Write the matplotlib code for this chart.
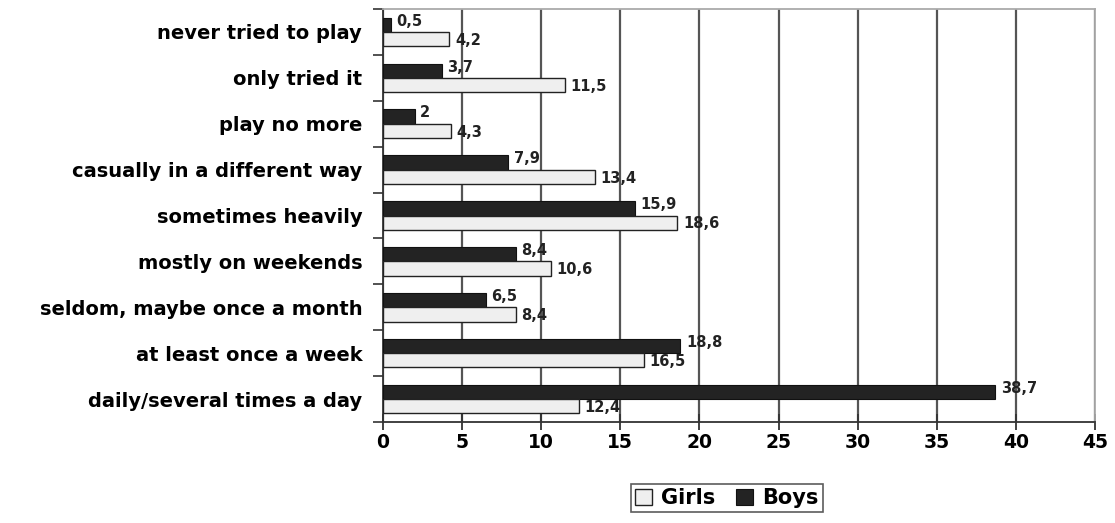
import matplotlib
matplotlib.use("Agg")
import matplotlib.pyplot as plt
import numpy as np

categories = [
    "never tried to play",
    "only tried it",
    "play no more",
    "casually in a different way",
    "sometimes heavily",
    "mostly on weekends",
    "seldom, maybe once a month",
    "at least once a week",
    "daily/several times a day",
]
girls = [4.2, 11.5, 4.3, 13.4, 18.6, 10.6, 8.4, 16.5, 12.4]
boys = [0.5, 3.7, 2.0, 7.9, 15.9, 8.4, 6.5, 18.8, 38.7]
xticks = [0, 5, 10, 15, 20, 25, 30, 35, 40, 45]

plt.rcParams['font.family'] = ['DejaVu Sans']
plt.rcParams['font.weight'] = 'bold'

fig = plt.figure(figsize=(11.15, 5.23), dpi=100)
W, H = 1115, 523
ax = fig.add_axes([383 / W, 1 - 422 / H, (1095 - 383) / W, (422 - 9) / H])

n = len(categories)
y = np.arange(n)
bh = 0.31
ax.barh(y - bh / 2, boys, height=bh, color="#232323", edgecolor="#111111",
        linewidth=0.8, zorder=3, label="Boys")
ax.barh(y + bh / 2, girls, height=bh, color="#efefef", edgecolor="#222222",
        linewidth=1.0, zorder=3, label="Girls")

def fmt(v):
    s = f"{v:.1f}".replace(".", ",")
    return s[:-2] if s.endswith(",0") else s

for i in range(n):
    ax.text(boys[i] + 0.35, y[i] - bh / 2 - 0.08, fmt(boys[i]), ha="left", va="center",
            fontsize=10.5, fontweight="bold", color="#222222", zorder=4)
    ax.text(girls[i] + 0.35, y[i] + bh / 2 + 0.03, fmt(girls[i]), ha="left", va="center",
            fontsize=10.5, fontweight="bold", color="#222222", zorder=4)

ax.set_ylim(n - 0.5, -0.5)
ax.set_xlim(0, 45)
ax.set_xticks(xticks)
ax.set_xticklabels([str(t) for t in xticks], fontsize=13.5, fontweight="bold")
ax.set_yticks(y)
ax.set_yticklabels(categories, fontsize=14, fontweight="bold")
ax.set_yticks(np.arange(n + 1) - 0.5, minor=True)
ax.tick_params(axis="y", which="major", length=0, pad=15)
ax.tick_params(axis="y", which="minor", length=7, width=1.2, color="#333333",
               direction="out")
ax.tick_params(axis="x", which="major", length=12, width=1.3, color="#333333",
               direction="inout", pad=2)

ax.grid(axis="x", color="#555555", linewidth=1.6, zorder=0)
ax.set_axisbelow(True)
for side in ("left", "bottom"):
    ax.spines[side].set_color("#333333")
    ax.spines[side].set_linewidth(1.3)
for side in ("top", "right"):
    ax.spines[side].set_color("#aaaaaa")
    ax.spines[side].set_linewidth(1.3)

handles, labels = ax.get_legend_handles_labels()
leg = fig.legend(handles[::-1], labels[::-1], loc="center", ncol=2,
                 bbox_to_anchor=(727 / W, 1 - 498 / H), frameon=True,
                 fancybox=False, edgecolor="#333333",
                 prop={"weight": "bold", "size": 15},
                 handlelength=0.8, handleheight=0.8, handletextpad=0.45,
                 columnspacing=1.0, borderpad=0.2, borderaxespad=0.2)
leg.get_frame().set_linewidth(1.2)

fig.savefig("out.png", dpi=100, facecolor="white")
